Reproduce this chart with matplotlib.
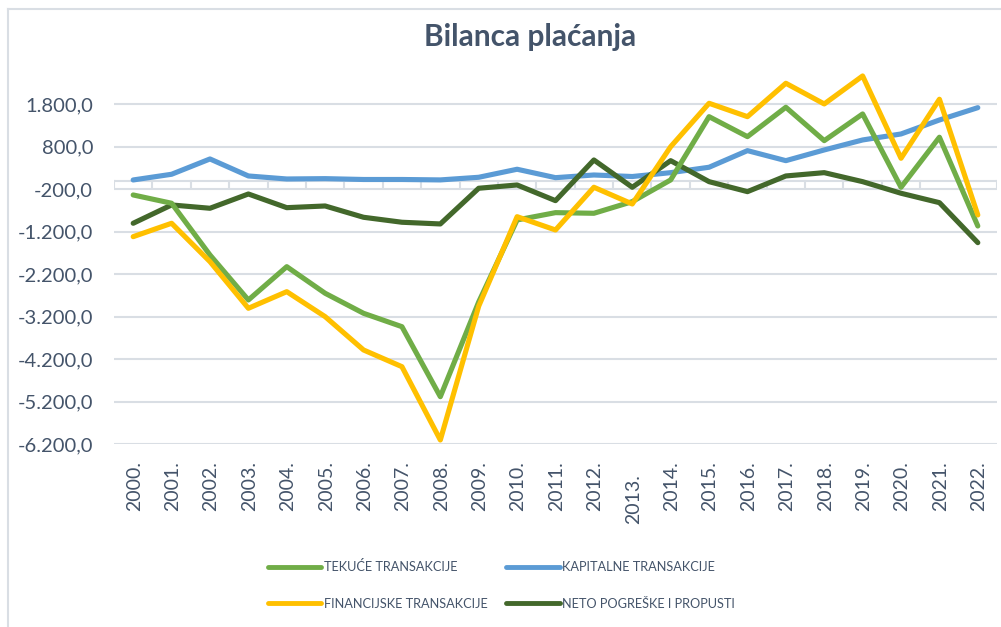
import matplotlib.pyplot as plt
from matplotlib.lines import Line2D
from matplotlib.ticker import FixedLocator, FuncFormatter
import numpy as np

years = [f"{y}." for y in range(2000, 2023)]

tekuce = [-334, -529, -1746, -2805, -2021, -2647, -3118, -3433, -5080, -2850,
          -922, -750, -765, -491, 20, 1508, 1038, 1729, 944, 1572, -153, 1024, -1064]
kapitalne = [19, 153, 513, 113, 42, 50, 30, 30, 20, 82,
             271, 73, 136, 100, 191, 318, 709, 473, 725, 960, 1101, 1430, 1720]
financijske = [-1315, -1000, -1903, -3000, -2609, -3197, -3981, -4374, -6099, -2950,
               -845, -1158, -153, -546, 802, 1823, 1508, 2294, 1807, 2466, 529, 1918, -805]
neto = [-1000, -569, -647, -311, -633, -593, -859, -976, -1016, -176,
        -99, -468, 489, -153, 473, -21, -256, 113, 191, -21, -294, -515, -1456]

series = [
    ("TEKUĆE TRANSAKCIJE", tekuce, "#70AD47"),
    ("KAPITALNE TRANSAKCIJE", kapitalne, "#5B9BD5"),
    ("FINANCIJSKE TRANSAKCIJE", financijske, "#FFC000"),
    ("NETO POGREŠKE I PROPUSTI", neto, "#43682B"),
]

txt = "#44546A"
grid = "#D9DEE4"
plt.rcParams["font.family"] = ["Lato", "DejaVu Sans"]

W, H = 1001, 627
fig = plt.figure(figsize=(W / 100, H / 100), dpi=100)
ax = fig.add_axes([114 / W, 1 - 444.3 / H, (997 - 114) / W, (444.3 - 66) / H])

x = np.arange(len(years))
# draw order: dark green under others as in the reference
for name, vals, col in [series[1], series[3], series[0], series[2]]:
    ax.plot(x, vals, color=col, lw=3.7, solid_joinstyle="round", solid_capstyle="round", zorder=3)

ax.set_xlim(-0.5, len(years) - 0.5)
ax.set_ylim(-6200, 2700)
yt = np.arange(-6200, 1801, 1000)
ax.yaxis.set_major_locator(FixedLocator(yt))
ax.yaxis.set_major_formatter(FuncFormatter(
    lambda v, p: f"{v:,.1f}".replace(",", "X").replace(".", ",").replace("X", ".")))
ax.tick_params(axis="y", length=0, labelsize=14.5, labelcolor=txt, pad=15)
ax.yaxis.grid(True, color=grid, lw=1.5, zorder=0)
for s in ax.spines.values():
    s.set_visible(False)

# category axis crossing at zero with tick marks between categories
ax.axhline(0, color=grid, lw=1.5, zorder=1)
ax.set_xticks([])
for b in np.arange(-0.5, len(years), 1.0):
    ax.plot([b, b], [0, -170], color=grid, lw=1.5, zorder=1)

for i, lab in enumerate(years):
    off = -17 if lab != "2013." else -30
    ax.annotate(lab, (i, -6200), xytext=(1, off), textcoords="offset pixels",
                rotation=90, ha="center", va="top", fontsize=14, color=txt)

fig.text(530 / W, 1 - 37 / H, "Bilanca plaćanja", ha="center", va="center",
         fontsize=21.5, fontweight="bold", color=txt)

order = [0, 2, 1, 3]
handles = [Line2D([], [], color=series[k][2], lw=3.5, solid_capstyle="round") for k in order]
labels = [series[k][0] for k in order]
leg = fig.legend(handles, labels, ncol=2, loc="center left", bbox_to_anchor=(256 / W, 1 - 585 / H),
                 frameon=False, fontsize=9.2, labelcolor=txt, handlelength=4.2,
                 handletextpad=0.2, columnspacing=1.45, labelspacing=1.9)

# chart border (cropped on right and bottom)
fig.add_artist(Line2D([7.5 / W, 7.5 / W], [0, 1 - 9 / H], color=grid, lw=1.5))
fig.add_artist(Line2D([7.5 / W, 1], [1 - 9 / H, 1 - 9 / H], color=grid, lw=1.5))

fig.savefig("out.png", dpi=100)
